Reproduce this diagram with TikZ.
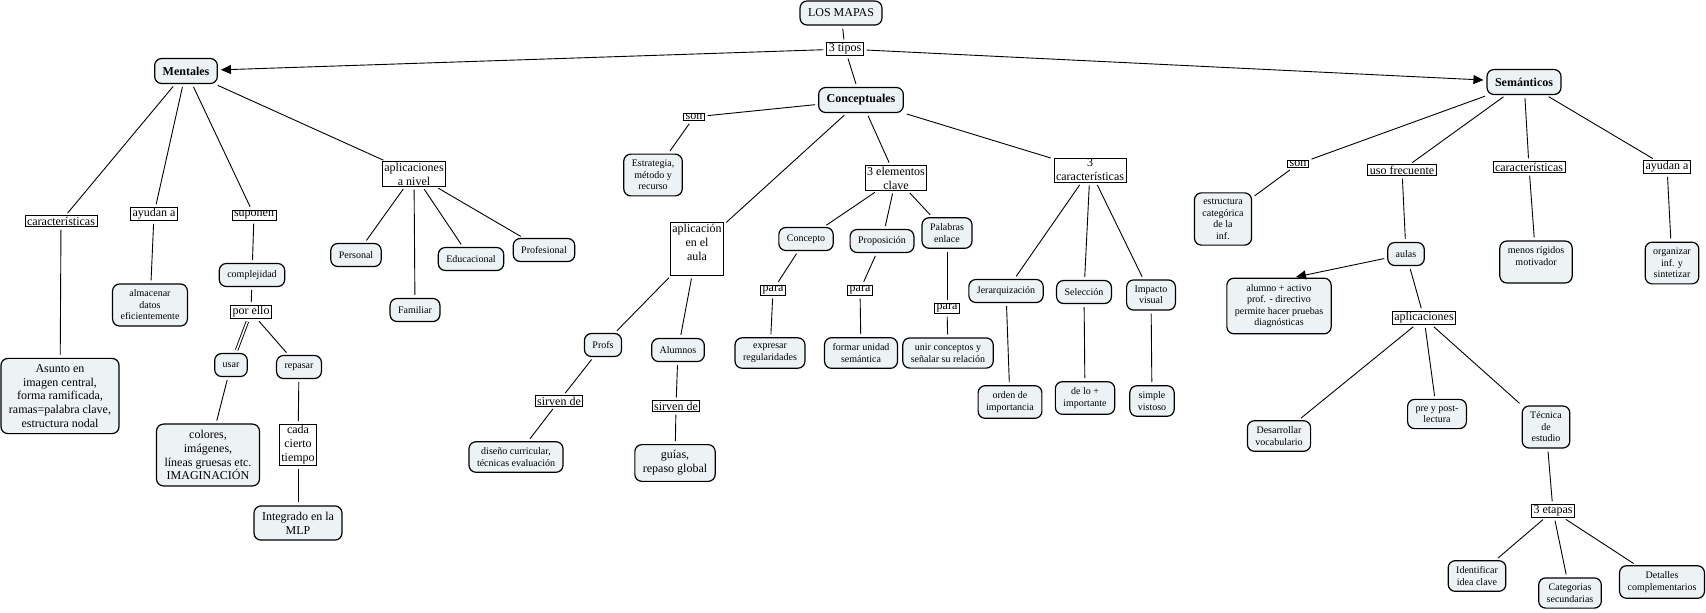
\documentclass[tikz,border=0pt]{standalone}
\usepackage{fontspec}
\setmainfont{Liberation Serif}
\usetikzlibrary{arrows.meta}
\definecolor{cfill}{RGB}{237,243,245}

\tikzset{
  concept/.style={draw, line width=0.6pt, fill=cfill, rounded corners=3.5pt, align=center,
    inner xsep=4pt, inner ysep=3pt, minimum height=11.5pt, font=\fontsize{5}{5.75}\selectfont},
  big/.style={concept, font=\fontsize{6}{6.9}\selectfont},
  main/.style={concept, minimum height=12.5pt, font=\bfseries\fontsize{6}{7}\selectfont},
  phrase/.style={draw, line width=0.4pt, fill=white, align=center, inner xsep=1pt, inner ysep=0.5pt,
    font=\fontsize{6}{7}\selectfont},
  conn/.style={line width=0.45pt, shorten <=1.5pt, shorten >=1.5pt},
  arrowc/.style={conn, -{Triangle[length=5pt,width=4.5pt]}}
}

\begin{document}
\begin{tikzpicture}[x=0.5pt,y=-0.5pt]
	\useasboundingbox (0,0) rectangle (1706,612);
	% top
	\node (lmapas) at (841,13) [big, minimum height=12pt] {LOS MAPAS};
	\node (tipos) at (845,49) [phrase] {3 tipos};
	\node (mentales) at (186,71) [main] {Mentales};
	\node (concep) at (861,100) [main] {Conceptuales};
	\node (seman) at (1524,82) [main] {Semánticos};
	% mentales
	\node (mcar) at (61,221) [phrase] {características};
	\node (asunto) at (60,396) [big] {Asunto en\\imagen central,\\forma ramificada,\\ramas=palabra clave,\\estructura nodal};
	\node (mayud) at (154,214) [phrase] {ayudan a};
	\node (almac) at (150,305) [concept] {almacenar\\datos\\eficientemente};
	\node (msup) at (254,215) [phrase] {suponen};
	\node (complej) at (252,275) [concept] {complejidad};
	\node (porello) at (251,312) [phrase] {por ello};
	\node (usar) at (231,365) [concept] {usar};
	\node (repasar) at (299,367) [concept] {repasar};
	\node (colores) at (208,455) [big] {colores,\\imágenes,\\líneas gruesas etc.\\IMAGINACIÓN};
	\node (cada) at (298,445) [phrase] {cada\\cierto\\tiempo};
	\node (integ) at (298,523) [big] {Integrado en la\\MLP};
	\node (maplic) at (414,174) [phrase] {aplicaciones\\a nivel};
	\node (pers) at (356,255) [concept] {Personal};
	\node (famil) at (415,310) [concept] {Familiar};
	\node (educ) at (471,259) [concept] {Educacional};
	\node (prof) at (544,250) [concept] {Profesional};
	% conceptuales
	\node (cson) at (694,117) [phrase] {son};
	\node (estrat) at (653,175) [concept] {Estrategia,\\método y\\recurso};
	\node (caula) at (697,249) [phrase] {aplicación\\en el\\aula\\\mbox{}};
	\node (profs) at (603,345) [concept] {Profs};
	\node (alumnos) at (678,350) [concept] {Alumnos};
	\node (sirv1) at (559,401) [phrase] {sirven de};
	\node (sirv2) at (676,406) [phrase] {sirven de};
	\node (diseno) at (516,457) [concept] {diseño curricular,\\técnicas evaluación};
	\node (guias) at (675,463) [big] {guías,\\repaso global};
	\node (celem) at (896,178) [phrase] {3 elementos\\clave};
	\node (concepto) at (806,239) [concept] {Concepto};
	\node (propos) at (882,241) [concept] {Proposición};
	\node (palabras) at (947,233) [concept] {Palabras\\enlace};
	\node (para1) at (773,290) [phrase] {para};
	\node (para2) at (860,290) [phrase] {para};
	\node (para3) at (947,308) [phrase] {para};
	\node (expresar) at (770,353) [concept] {expresar\\regularidades};
	\node (formar) at (861,353) [concept] {formar unidad\\semántica};
	\node (unir) at (948,353) [concept] {unir conceptos y\\señalar su relación};
	\node (ccar) at (1090,170) [phrase] {3\\características};
	\node (jerarq) at (1006,291) [concept] {Jerarquización};
	\node (selecc) at (1084,292) [concept] {Selección};
	\node (impacto) at (1151,295) [concept] {Impacto\\visual};
	\node (orden) at (1010,402) [concept] {orden de\\importancia};
	\node (delo) at (1085,398) [concept] {de lo +\\importante};
	\node (simple) at (1152,401) [concept] {simple\\vistoso};
	% semanticos
	\node (sson) at (1298,164) [phrase] {son};
	\node (estruc) at (1223,219) [concept] {estructura\\categórica\\de la\\inf.};
	\node (suso) at (1402,170) [phrase] {uso frecuente};
	\node (aulas) at (1406,254) [concept] {aulas};
	\node (alumno) at (1279,306) [concept] {alumno + activo\\prof. - directivo\\permite hacer pruebas\\diagnósticas};
	\node (saplic) at (1424,318) [phrase] {aplicaciones};
	\node (desarr) at (1279,436) [concept] {Desarrollar\\vocabulario};
	\node (prepost) at (1437,414) [concept] {pre y post-\\lectura};
	\node (tecnica) at (1546,427) [concept] {Técnica\\de\\estudio};
	\node (etapas) at (1553,511) [phrase] {3 etapas};
	\node (ident) at (1477,576) [concept] {Identificar\\idea clave};
	\node (categ) at (1570,593) [concept] {Categorias\\secundarias};
	\node (detall) at (1662,582) [concept] {Detalles\\complementarios};
	\node (scar) at (1529,167) [phrase] {características};
	\node (menos) at (1536,262) [concept] {menos rígidos\\motivador\\\mbox{}};
	\node (sayud) at (1667,167) [phrase] {ayudan a};
	\node (organ) at (1672,263) [concept] {organizar\\inf. y\\sintetizar};

	\draw[conn] (lmapas) -- (tipos);
	\draw[arrowc] (tipos) -- (mentales);
	\draw[conn] (tipos) -- (concep);
	\draw[arrowc] (tipos) -- (seman);
	% mentales
	\draw[conn] (mentales) -- (mcar);
	\draw[conn] (mcar) -- (asunto);
	\draw[conn] (mentales) -- (mayud);
	\draw[conn] (mayud) -- (almac);
	\draw[conn] (mentales) -- (msup);
	\draw[conn] (msup) -- (complej);
	\draw[conn] (complej) -- (porello);
	\draw[conn, double, double distance=0.8pt] (porello) -- (usar);
	\draw[conn] (usar) -- (colores);
	\draw[conn] (porello) -- (repasar);
	\draw[conn] (repasar) -- (cada);
	\draw[conn] (cada) -- (integ);
	\draw[conn] (mentales) -- (maplic);
	\draw[conn] (maplic) -- (pers);
	\draw[conn] (maplic) -- (famil);
	\draw[conn] (maplic) -- (educ);
	\draw[conn] (maplic) -- (prof);
	% conceptuales
	\draw[conn] (concep) -- (cson);
	\draw[conn] (cson) -- (estrat);
	\draw[conn] (concep) -- (caula);
	\draw[conn] (caula) -- (profs);
	\draw[conn] (caula) -- (alumnos);
	\draw[conn] (profs) -- (sirv1);
	\draw[conn] (sirv1) -- (diseno);
	\draw[conn] (alumnos) -- (sirv2);
	\draw[conn] (sirv2) -- (guias);
	\draw[conn] (concep) -- (celem);
	\draw[conn] (celem) -- (concepto);
	\draw[conn] (celem) -- (propos);
	\draw[conn] (celem) -- (palabras);
	\draw[conn] (concepto) -- (para1);
	\draw[conn] (para1) -- (expresar);
	\draw[conn] (propos) -- (para2);
	\draw[conn] (para2) -- (formar);
	\draw[conn] (palabras) -- (para3);
	\draw[conn] (para3) -- (unir);
	\draw[conn] (concep) -- (ccar);
	\draw[conn] (ccar) -- (jerarq);
	\draw[conn] (ccar) -- (selecc);
	\draw[conn] (ccar) -- (impacto);
	\draw[conn] (jerarq) -- (orden);
	\draw[conn] (selecc) -- (delo);
	\draw[conn] (impacto) -- (simple);
	% semanticos
	\draw[conn] (seman) -- (sson);
	\draw[conn] (sson) -- (estruc);
	\draw[conn] (seman) -- (suso);
	\draw[conn] (suso) -- (aulas);
	\draw[arrowc] (aulas) -- ([xshift=7pt]alumno.north);
	\draw[conn] (aulas) -- (saplic);
	\draw[conn] (saplic) -- (desarr);
	\draw[conn] (saplic) -- (prepost);
	\draw[conn] (saplic) -- (tecnica);
	\draw[conn] (tecnica) -- (etapas);
	\draw[conn] (etapas) -- (ident);
	\draw[conn] (etapas) -- (categ);
	\draw[conn] (etapas) -- (detall);
	\draw[conn] (seman) -- (scar);
	\draw[conn] (scar) -- (menos);
	\draw[conn] (seman) -- (sayud);
	\draw[conn] (sayud) -- (organ);
\end{tikzpicture}
\end{document}
